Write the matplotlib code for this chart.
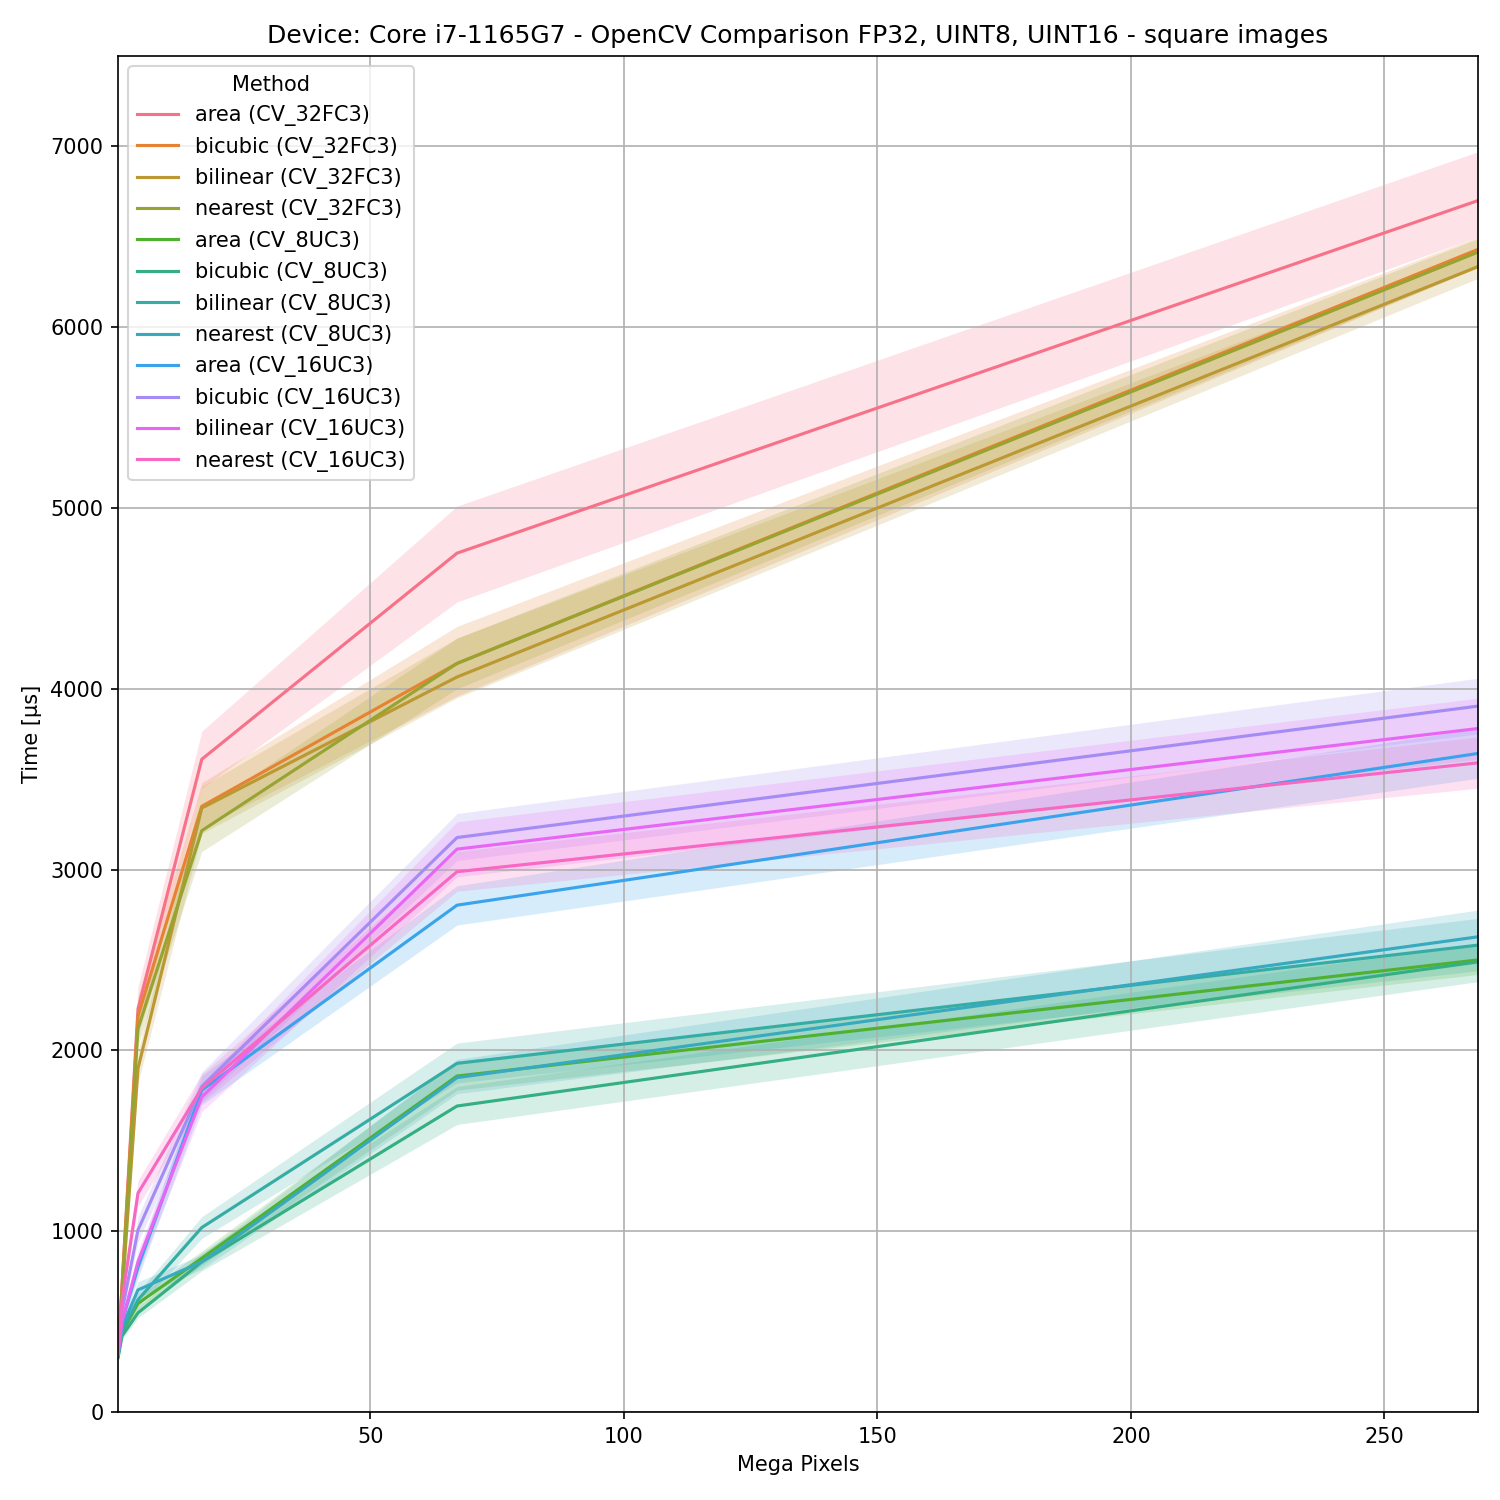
import matplotlib
matplotlib.use('Agg')
import matplotlib.pyplot as plt
import seaborn as sns

# Mega pixels of the square test images (512 .. 16384 px side)
mpix = [0.262144, 1.048576, 4.194304, 16.777216, 67.108864, 268.435456]

methods = ['area (CV_32FC3)', 'bicubic (CV_32FC3)', 'bilinear (CV_32FC3)', 'nearest (CV_32FC3)',
           'area (CV_8UC3)', 'bicubic (CV_8UC3)', 'bilinear (CV_8UC3)', 'nearest (CV_8UC3)',
           'area (CV_16UC3)', 'bicubic (CV_16UC3)', 'bilinear (CV_16UC3)', 'nearest (CV_16UC3)']

# mean time [us]
area_32f = [320, 700, 2230, 3610, 4750, 6700]
bicubic_32f = [320, 690, 2190, 3350, 4140, 6430]
bilinear_32f = [310, 640, 1900, 3340, 4065, 6335]
nearest_32f = [310, 670, 2120, 3215, 4140, 6415]
area_8u = [310, 440, 600, 850, 1858, 2500]
bicubic_8u = [300, 420, 548, 830, 1692, 2490]
bilinear_8u = [310, 450, 620, 1020, 1928, 2582]
nearest_8u = [320, 470, 675, 830, 1849, 2628]
area_16u = [320, 500, 800, 1780, 2803, 3642]
bicubic_16u = [320, 560, 1006, 1800, 3177, 3904]
bilinear_16u = [320, 500, 830, 1742, 3113, 3780]
nearest_16u = [330, 620, 1210, 1791, 2988, 3590]

# confidence band, lower / upper
area_32f_lo = [300, 640, 2100, 3450, 4480, 6500]
area_32f_hi = [340, 760, 2350, 3765, 5010, 6970]
bicubic_32f_lo = [300, 640, 2080, 3230, 3960, 6330]
bicubic_32f_hi = [340, 740, 2300, 3480, 4345, 6500]
bilinear_32f_lo = [290, 590, 1820, 3200, 3950, 6270]
bilinear_32f_hi = [330, 690, 1990, 3460, 4280, 6420]
nearest_32f_lo = [290, 620, 2030, 3100, 4000, 6330]
nearest_32f_hi = [330, 720, 2200, 3330, 4280, 6490]
area_8u_lo = [290, 420, 560, 810, 1780, 2420]
area_8u_hi = [330, 460, 640, 890, 1940, 2580]
bicubic_8u_lo = [280, 400, 520, 780, 1590, 2380]
bicubic_8u_hi = [320, 440, 580, 880, 1800, 2590]
bilinear_8u_lo = [290, 430, 580, 960, 1820, 2440]
bilinear_8u_hi = [330, 470, 660, 1080, 2040, 2730]
nearest_8u_lo = [300, 450, 630, 790, 1760, 2480]
nearest_8u_hi = [340, 490, 720, 870, 1950, 2776]
area_16u_lo = [300, 470, 740, 1700, 2693, 3505]
area_16u_hi = [340, 530, 860, 1860, 2910, 3780]
bicubic_16u_lo = [300, 530, 940, 1720, 3050, 3750]
bicubic_16u_hi = [340, 590, 1080, 1880, 3310, 4058]
bilinear_16u_lo = [300, 470, 770, 1660, 2960, 3610]
bilinear_16u_hi = [340, 530, 890, 1820, 3264, 3948]
nearest_16u_lo = [310, 590, 1140, 1710, 2880, 3450]
nearest_16u_hi = [350, 650, 1280, 1870, 3100, 3733]

means = [area_32f, bicubic_32f, bilinear_32f, nearest_32f,
         area_8u, bicubic_8u, bilinear_8u, nearest_8u,
         area_16u, bicubic_16u, bilinear_16u, nearest_16u]
lows = [area_32f_lo, bicubic_32f_lo, bilinear_32f_lo, nearest_32f_lo,
        area_8u_lo, bicubic_8u_lo, bilinear_8u_lo, nearest_8u_lo,
        area_16u_lo, bicubic_16u_lo, bilinear_16u_lo, nearest_16u_lo]
highs = [area_32f_hi, bicubic_32f_hi, bilinear_32f_hi, nearest_32f_hi,
         area_8u_hi, bicubic_8u_hi, bilinear_8u_hi, nearest_8u_hi,
         area_16u_hi, bicubic_16u_hi, bilinear_16u_hi, nearest_16u_hi]

colors = sns.color_palette('husl', len(methods))

fig, ax = plt.subplots(figsize=(10, 10), dpi=150)

for name, m, lo, hi, c in zip(methods, means, lows, highs, colors):
    ax.plot(mpix, m, color=c, lw=1.5, label=name)
    ax.fill_between(mpix, lo, hi, color=c, alpha=0.2, lw=0)

ax.set_xlim(mpix[0], mpix[-1])
ax.set_ylim(0, 7500)
ax.grid(True)
ax.set_title('Device: Core i7-1165G7 - OpenCV Comparison FP32, UINT8, UINT16 - square images')
ax.set_xlabel('Mega Pixels')
ax.set_ylabel('Time [µs]')
ax.legend(title='Method', loc='upper left')

fig.subplots_adjust(left=0.0787, right=0.9853, bottom=0.0587, top=0.9627)
fig.savefig('out.png')
